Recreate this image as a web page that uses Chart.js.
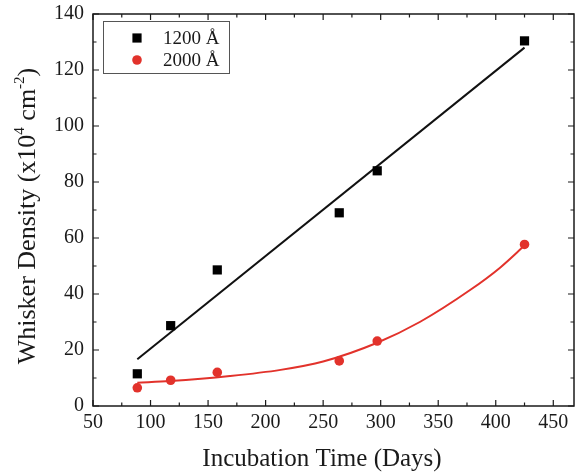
<!DOCTYPE html>
<html>
<head>
<meta charset="utf-8">
<script src="https://cdn.jsdelivr.net/npm/chart.js@4.4.1/dist/chart.umd.min.js"></script>
<style>
  html, body { margin: 0; padding: 0; background: #fff; }
  canvas { display: block; }
</style>
</head>
<body>
<canvas id="whiskerChart" width="575" height="475"></canvas>
<script>
// measured samples
const days = [88.5, 117.5, 158, 264, 297, 425];
const density1200 = [11.5, 28.7, 48.6, 69, 84, 130.4];
const density2000 = [6.5, 9.2, 12, 16.1, 23.2, 57.7];

// fitted curves
const fit1200Days = [88.5, 425];
const fit1200 = [16.7, 128];
const fit2000Days = [88.5, 117, 169, 213, 250, 297, 334, 378, 404, 425];
const fit2000 = [8.3, 8.9, 10.7, 12.9, 15.9, 22.6, 30.0, 41.5, 49.5, 57.3];

// axis ticks (minor ticks sit between the labelled ones)
const xTicks = [50, 75, 100, 125, 150, 175, 200, 225, 250, 275, 300, 325, 350, 375, 400, 425, 450];
const xLabelled = [50, 100, 150, 200, 250, 300, 350, 400, 450];
const yTicks = [0, 10, 20, 30, 40, 50, 60, 70, 80, 90, 100, 110, 120, 130, 140];
const yLabelled = [0, 20, 40, 60, 80, 100, 120, 140];

const seriesLabels = ['1200 Å', '2000 Å'];
const xTitle = 'Incubation Time (Days)';
const yTitleParts = [['Whisker Density (x10', false], ['4', true], [' cm', false], ['-2', true], [')', false]];

const RED = '#e2322b';
const INK = '#1a1a1a';
const SERIF = '"Liberation Serif", "DejaVu Serif", serif';

const toPoints = (xs, ys) => xs.map((x, i) => ({ x: x, y: ys[i] }));

// frame, inward ticks, titles and the boxed legend
const decorPlugin = {
    id: 'decor',
    afterDraw(chart) {
        const ctx = chart.ctx;
        const a = chart.chartArea;
        const xs = chart.scales.x;
        const ys = chart.scales.y;
        ctx.save();
        ctx.strokeStyle = INK;
        ctx.lineWidth = 1.5;
        ctx.strokeRect(a.left, a.top, a.right - a.left, a.bottom - a.top);

        ctx.lineWidth = 1.2;
        ctx.beginPath();
        xs.ticks.forEach(t => {
            const len = xLabelled.includes(t.value) ? 6 : 3.5;
            const px = xs.getPixelForValue(t.value);
            ctx.moveTo(px, a.bottom); ctx.lineTo(px, a.bottom - len);
            ctx.moveTo(px, a.top); ctx.lineTo(px, a.top + len);
        });
        ys.ticks.forEach(t => {
            const len = yLabelled.includes(t.value) ? 6 : 3.5;
            const py = ys.getPixelForValue(t.value);
            ctx.moveTo(a.left, py); ctx.lineTo(a.left + len, py);
            ctx.moveTo(a.right, py); ctx.lineTo(a.right - len, py);
        });
        ctx.stroke();

        // x title
        ctx.fillStyle = INK;
        ctx.font = '25px ' + SERIF;
        ctx.textAlign = 'center';
        ctx.textBaseline = 'alphabetic';
        ctx.fillText(xTitle, 322, 466);

        // y title with superscripts, rotated
        const big = '26px ' + SERIF;
        const small = '15px ' + SERIF;
        let total = 0;
        yTitleParts.forEach(([s, sup]) => { ctx.font = sup ? small : big; total += ctx.measureText(s).width; });
        ctx.translate(35, 216);
        ctx.rotate(-Math.PI / 2);
        ctx.textAlign = 'left';
        let cx = -total / 2;
        yTitleParts.forEach(([s, sup]) => {
            ctx.font = sup ? small : big;
            ctx.fillText(s, cx, sup ? -11 : 0);
            cx += ctx.measureText(s).width;
        });
        ctx.setTransform(1, 0, 0, 1, 0, 0);

        // legend box
        ctx.strokeStyle = '#555';
        ctx.lineWidth = 1;
        ctx.strokeRect(103.5, 21.5, 126, 52);
        ctx.font = '19px ' + SERIF;
        ctx.textBaseline = 'middle';
        ctx.textAlign = 'left';
        [0, 1].forEach(i => {
            const ds = chart.data.datasets[i];
            const y = 38 + 22 * i;
            ctx.fillStyle = ds.backgroundColor;
            Chart.helpers.drawPoint(ctx, { pointStyle: ds.pointStyle, radius: ds.pointRadius, rotation: 0 }, 137, y);
            ctx.fillStyle = INK;
            ctx.fillText(ds.label, 163, y + 1);
        });
        ctx.restore();
    }
};

new Chart(document.getElementById('whiskerChart'), {
    type: 'scatter',
    data: {
        datasets: [
            {
                label: seriesLabels[0],
                data: toPoints(days, density1200),
                pointStyle: 'rect',
                pointRadius: 6.5,
                backgroundColor: '#000',
                borderColor: '#000',
                borderWidth: 0,
                order: 1
            },
            {
                label: seriesLabels[1],
                data: toPoints(days, density2000),
                pointStyle: 'circle',
                pointRadius: 4.8,
                backgroundColor: RED,
                borderColor: RED,
                borderWidth: 0,
                order: 1
            },
            {
                label: 'fit 1200',
                data: toPoints(fit1200Days, fit1200),
                showLine: true,
                pointRadius: 0,
                borderColor: '#111',
                borderWidth: 2,
                order: 2
            },
            {
                label: 'fit 2000',
                data: toPoints(fit2000Days, fit2000),
                showLine: true,
                pointRadius: 0,
                borderColor: RED,
                borderWidth: 2,
                cubicInterpolationMode: 'monotone',
                order: 2
            }
        ]
    },
    options: {
        responsive: false,
        animation: false,
        layout: { autoPadding: false, padding: { top: 14, right: 1, left: 0, bottom: 0 } },
        plugins: { legend: { display: false }, tooltip: { enabled: false } },
        scales: {
            x: {
                type: 'linear',
                min: 50,
                max: 468,
                afterBuildTicks: s => { s.ticks = xTicks.map(v => ({ value: v })); },
                afterFit: s => {
                    s.height = 69;
                    s.paddingLeft = 0;
                    s.paddingRight = 0;
                },
                grid: { display: false, drawTicks: false },
                border: { display: false },
                ticks: {
                    autoSkip: false,
                    maxRotation: 0,
                    padding: 5,
                    color: INK,
                    font: { family: SERIF, size: 20 },
                    callback: v => (xLabelled.includes(v) ? String(v) : '')
                }
            },
            y: {
                min: 0,
                max: 140,
                afterBuildTicks: s => { s.ticks = yTicks.map(v => ({ value: v })); },
                afterFit: s => {
                    s.width = 93;
                    s.paddingTop = 0;
                    s.paddingBottom = 0;
                },
                grid: { display: false, drawTicks: false },
                border: { display: false },
                ticks: {
                    autoSkip: false,
                    padding: 9,
                    color: INK,
                    font: { family: SERIF, size: 20 },
                    callback: v => (yLabelled.includes(v) ? String(v) : '')
                }
            }
        }
    },
    plugins: [decorPlugin]
});
</script>
</body>
</html>
